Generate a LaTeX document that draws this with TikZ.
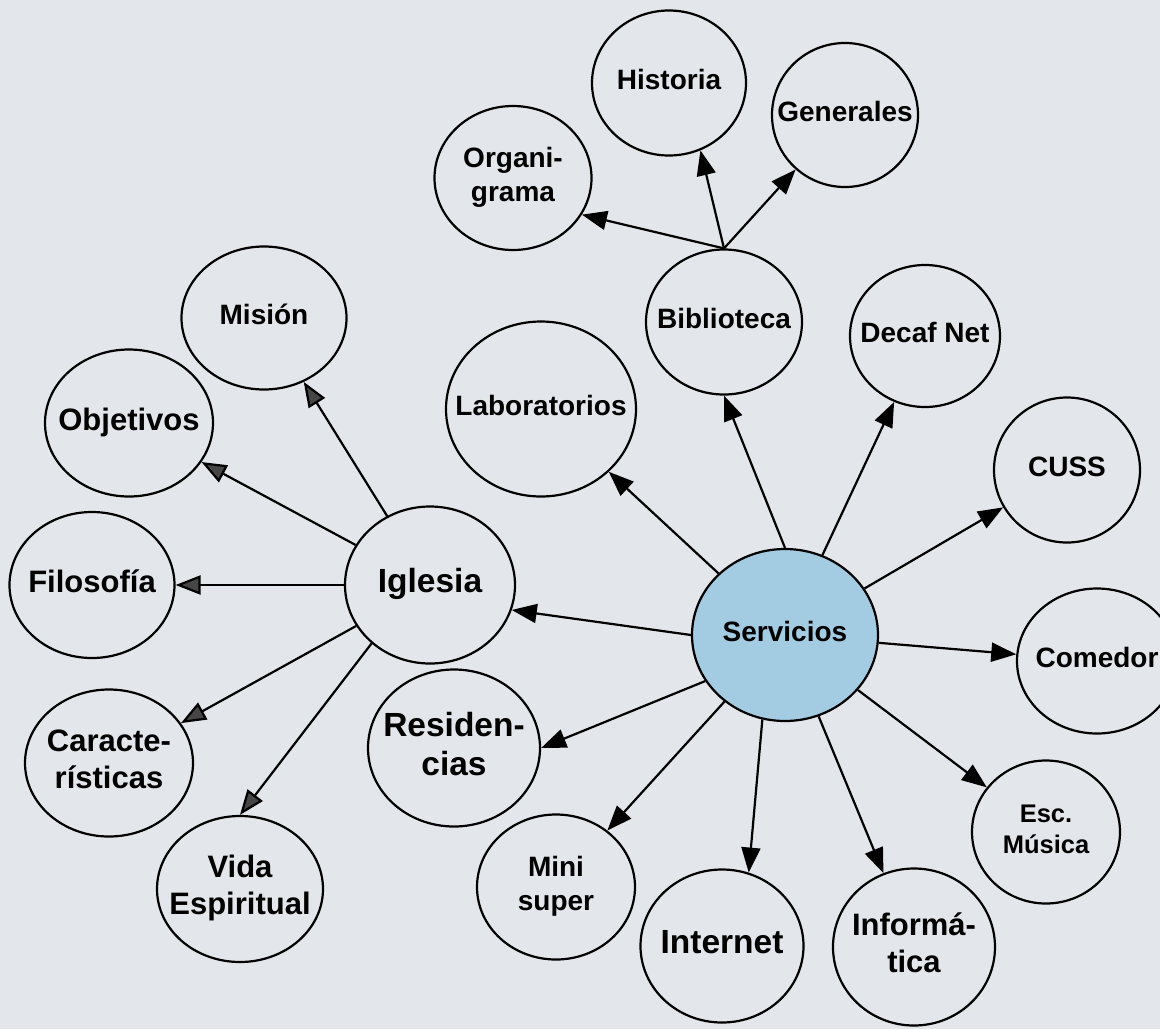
\documentclass[tikz,border=0pt]{standalone}
\usepackage{fontspec}
\setmainfont{Liberation Sans}
\usetikzlibrary{arrows.meta,shapes.geometric}

\definecolor{paper}{RGB}{227,231,235}
\definecolor{servblue}{RGB}{163,204,226}
\definecolor{tipgray}{RGB}{70,70,70}

% text of a bubble, kept out of the shape's own size
\newcommand{\lbl}[1]{\makebox[0pt]{\begin{tabular}{@{}c@{}}#1\end{tabular}}}

\tikzset{
  topic/.style={ellipse, draw, line width=2.2pt, inner sep=0pt, font=\bfseries\fontsize{28}{34}\selectfont},
  dims/.style 2 args={minimum width=#1pt, minimum height=#2pt},
  midtxt/.style={font=\bfseries\fontsize{31}{37}\selectfont},
  bigtxt/.style={font=\bfseries\fontsize{33.5}{39}\selectfont},
  smalltxt/.style={font=\bfseries\fontsize{25.5}{31}\selectfont},
  link/.style={line width=2.2pt, -{Triangle[length=25pt,width=19pt]}},
  glink/.style={line width=2.2pt, -{Triangle[length=25pt,width=19pt,fill=tipgray]}},
}

\begin{document}
\begin{tikzpicture}[x=1pt,y=-1pt]
  \useasboundingbox (0,0) rectangle (1160,1029);
  \fill[paper] (0,0) rectangle (1160,1029);

  \node[topic, dims={186}{172}, fill=servblue] (serv) at (785, 635) {\lbl{Servicios}};
  \node[topic, bigtxt, dims={170}{157}] (igl) at (430, 585) {\lbl{Iglesia}};

  \node[topic, dims={190}{175}] (lab) at (541, 409) {\lbl{Laboratorios}};
  \node[topic, dims={156}{145}] (bib) at (724, 322) {\lbl{Biblioteca}};
  \node[topic, dims={154}{145}] (hist) at (669, 83) {\lbl{Historia}};
  \node[topic, dims={146}{144}] (gen) at (845, 115) {\lbl{Generales}};
  \node[topic, dims={157}{144}] (org) at (513, 178) {\lbl{Organi-\\grama}};
  \node[topic, dims={150}{142}] (dec) at (925, 336) {\lbl{Decaf Net}};
  \node[topic, dims={146}{145}] (cuss) at (1067, 470) {\lbl{CUSS}};
  \node[topic, dims={160}{145}] (com) at (1097, 661) {\lbl{Comedor}};
  \node[topic, smalltxt, dims={148}{143}] (esc) at (1046, 832) {\lbl{Esc.\\Música}};
  \node[topic, midtxt, dims={162}{157}] (inf) at (914, 947) {\lbl{Informá-\\tica}};
  \node[topic, bigtxt, dims={163}{153}] (int) at (722, 946) {\lbl{Internet}};
  \node[topic, dims={158}{145}] (mini) at (556, 887) {\lbl{Mini\\super}};
  \node[topic, bigtxt, dims={172}{157}] (res) at (454, 748) {\lbl{Residen-\\cias}};

  \node[topic, dims={165}{143}] (mis) at (264, 318) {\lbl{Misión}};
  \node[topic, midtxt, dims={168}{147}] (obj) at (129, 423) {\lbl{Objetivos}};
  \node[topic, midtxt, dims={165}{146}] (fil) at (92, 585) {\lbl{Filosofía}};
  \node[topic, midtxt, dims={168}{147}] (car) at (109, 763) {\lbl{Caracte-\\rísticas}};
  \node[topic, midtxt, dims={166}{146}] (vida) at (240, 889) {\lbl{Vida\\Espiritual}};

  % Servicios
  \draw[link] (serv.west) -- (igl.-17);
  \draw[link] (serv) -- (lab);
  \draw[link] (serv.north) -- (bib.south);
  \draw[link] (serv) -- (dec);
  \draw[link] (serv) -- (cuss);
  \draw[link] (serv) -- (com);
  \draw[link] (serv) -- (esc);
  \draw[link] (serv) -- (inf);
  \draw[link] (serv.-105) -- (int.70);
  \draw[link] (serv) -- (mini);
  \draw[link] (serv.-150) -- (res.east);

  % Iglesia
  \draw[glink] (igl) -- (mis);
  \draw[glink] (igl) -- (obj);
  \draw[glink] (igl) -- (fil);
  \draw[glink] (igl) -- (car);
  \draw[glink] (igl.-135) -- (vida.north);

  % Biblioteca
  \draw[link] (bib.north) -- (org.-28);
  \draw[link] (bib.north) -- (hist.-65);
  \draw[link] (bib.north) -- (gen);
\end{tikzpicture}
\end{document}
